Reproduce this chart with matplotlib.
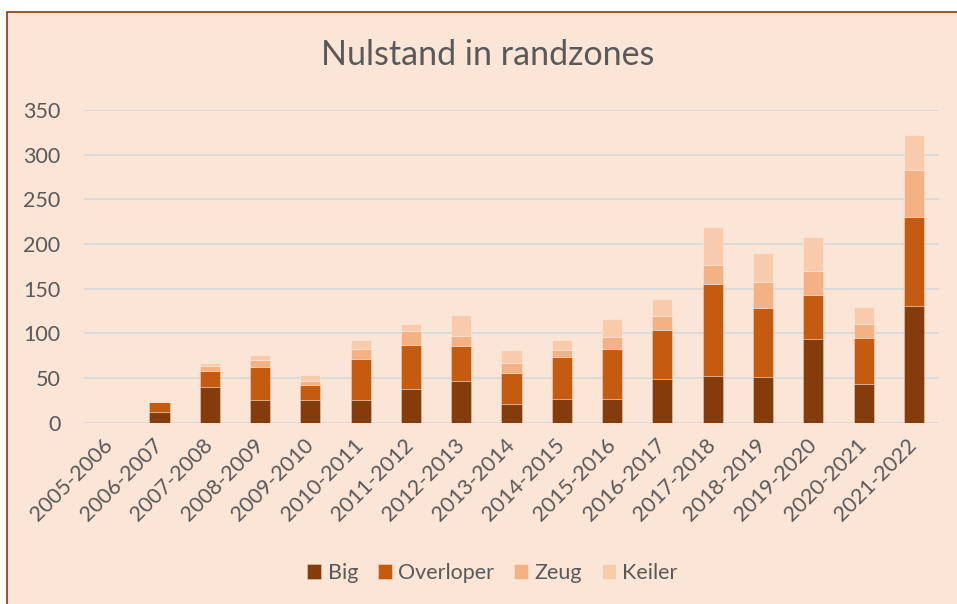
import matplotlib
matplotlib.use("Agg")
import matplotlib.pyplot as plt
from matplotlib.patches import Rectangle
import numpy as np

plt.rcParams['font.family'] = ['Lato', 'DejaVu Sans']

seasons = ['2005-2006', '2006-2007', '2007-2008', '2008-2009', '2009-2010',
           '2010-2011', '2011-2012', '2012-2013', '2013-2014', '2014-2015',
           '2015-2016', '2016-2017', '2017-2018', '2018-2019', '2019-2020',
           '2020-2021', '2021-2022']
big = [0, 12, 40, 25, 25, 25, 38, 47, 21, 26, 26, 49, 52, 51, 94, 43, 131]
overloper = [0, 11, 18, 37, 17, 46, 49, 39, 35, 47, 56, 55, 103, 77, 49, 52, 99]
zeug = [0, 0, 5, 8, 5, 12, 16, 11, 11, 8, 14, 15, 21, 29, 27, 15, 53]
keiler = [0, 0, 4, 6, 6, 10, 8, 23, 14, 12, 20, 20, 43, 33, 38, 19, 39]

series = [('Big', big, '#843C0C'),
          ('Overloper', overloper, '#C55A11'),
          ('Zeug', zeug, '#F4B183'),
          ('Keiler', keiler, '#F8CBAD')]

bg = '#FBE5D6'
txt = '#595959'

fig = plt.figure(figsize=(9.57, 6.04), dpi=100, facecolor='white')
# chart area frame (peach fill with brown border)
frame = Rectangle((7 / 957, -0.02), 1.05, 1.02 - 11.5 / 604,
                  transform=fig.transFigure, facecolor=bg,
                  edgecolor='#843C0C', linewidth=1.2, zorder=-5)
fig.patches.append(frame)

ax = fig.add_axes([84 / 957, 1 - 422.7 / 604, (939 - 84) / 957, (422.7 - 110) / 604])
ax.patch.set_alpha(0)

x = np.arange(len(seasons))
bottom = np.zeros(len(seasons))
for name, vals, col in series:
    vals = np.array(vals, dtype=float)
    ax.bar(x, vals, width=0.4, bottom=bottom, color=col, label=name,
           edgecolor=(1, 1, 1, 0.35), linewidth=0.6, zorder=3)
    bottom += vals

ax.set_xlim(-0.5, len(seasons) - 0.5)
ax.set_ylim(0, 350)
ax.set_yticks(range(0, 351, 50))
ax.yaxis.grid(True, color='#D9D9D9', linewidth=1.3, zorder=0)
ax.set_axisbelow(True)
for s in ax.spines.values():
    s.set_visible(False)

ax.set_xticks(x)
ax.set_xticklabels(seasons, rotation=45, ha='right', va='center',
                   rotation_mode='anchor')
ax.tick_params(axis='both', length=0, labelsize=15.5, labelcolor=txt)
ax.tick_params(axis='y', pad=17)
ax.tick_params(axis='x', pad=14)

fig.text(0.51, 0.909, 'Nulstand in randzones', ha='center', va='center',
         fontsize=24.5, color=txt)

fig.legend(loc='center', bbox_to_anchor=(0.5146, 0.0513), ncol=4,
           frameon=False, fontsize=15.5, labelcolor=txt,
           handlelength=0.65, handleheight=0.65, handletextpad=0.3,
           columnspacing=0.92)

fig.savefig('out.png', dpi=100, facecolor='white')
